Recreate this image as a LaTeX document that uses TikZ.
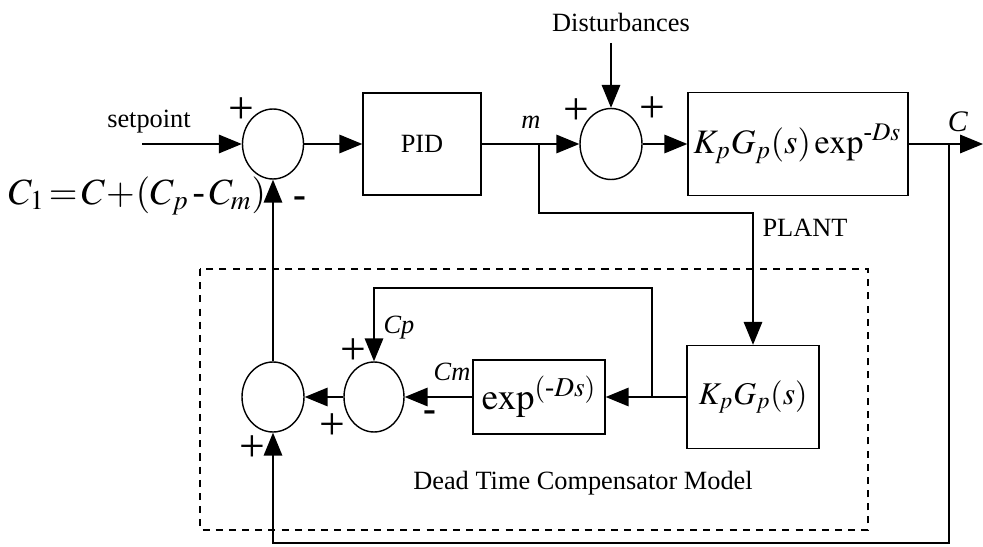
\documentclass[tikz,border=0pt]{standalone}
\usepackage{amsmath}
\usepackage{mathptmx}
\usepackage{fontspec}
\setmainfont{Liberation Serif}
\usetikzlibrary{shapes.geometric, arrows.meta, positioning}

\begin{document}
\begin{tikzpicture}[
    x=0.02cm, y=-0.02cm,
    font=\fontsize{15}{18}\selectfont,
    summer/.style={ellipse, draw=black, thick, minimum width=1.22cm, minimum height=1.4cm, inner sep=0},
    block/.style={rectangle, draw=black, thick, align=center, inner sep=0},
    arrow/.style={thick, -{Triangle[length=13pt, width=10.5pt]}},
    sign/.style={inner sep=0, font=\fontsize{26}{26}\selectfont},
    minus/.style={inner sep=0, font=\fontsize{22}{22}\selectfont\bfseries},
    big/.style={font=\fontsize{21}{25}\selectfont}
]
\useasboundingbox (0,0) rectangle (983,547);

% Forward path
\node (sum1) [summer] at (273,144) {};
\node (pid) [block, minimum width=2.36cm, minimum height=2.04cm] at (422,144) {PID};
\node (sum2) [summer, minimum width=1.24cm, minimum height=1.42cm] at (611,144) {};
\node (plant) [block, inner xsep=3pt, text width=4.4cm-6pt, minimum height=2.06cm, align=left, font=\fontsize{19.5}{24}\selectfont] at (798,144) {$K_pG_p(s)\,\mathrm{exp}^{\text{-}Ds}$};

% Compensator model
\node (sum3) [summer, minimum width=1.24cm] at (273,397) {};
\node (sum4) [summer, minimum width=1.2cm] at (374,397) {};
\node (delay) [block, minimum width=2.64cm, minimum height=1.48cm, big] at (539,397) {$\mathrm{exp}^{(\text{-}Ds)}$};
\node (model) [block, minimum width=2.64cm, minimum height=2.06cm, font=\fontsize{18}{22}\selectfont] at (753,397) {$K_pG_p(s)$};
\draw [thick, dash pattern=on 4pt off 3.5pt] (200,269) rectangle (868,530);
\node (frametitle) at (583,483) {Dead Time Compensator Model};

% Labels
\node (setpt) at (149,122) {setpoint};
\node (dist) at (621,22) {Disturbances};
\node (plantlbl) at (805,228) {PLANT};
\node (mlbl) at (531,122) {\textit{m}};
\node (clbl) [font=\fontsize{17}{20}\selectfont] at (958,122) {\textit{C}};
\node (cplbl) at (399,328) {\textit{Cp}};
\node (cmlbl) at (452,372) {\textit{Cm}};
\node (cone) [big, anchor=west, inner sep=0] at (8,196) {$C_1\! =\! C\! +\! (C_p\, \text{-}\, C_m)$};

% Signs
\node (p1) [sign] at (241,111) {+};
\node (p2) [sign] at (576,112) {+};
\node (p3) [sign] at (652,110) {+};
\node (p4) [sign] at (353,352) {+};
\node (p5) [sign] at (332,427) {+};
\node (p6) [sign] at (252,449) {+};
\node (n1) [minus] at (300,202) {-};
\node (n2) [minus] at (430,416) {-};

% Branch points
\coordinate (start) at (142,144);
\coordinate (out) at (983,144);
\coordinate (mtap) at (539,144);
\coordinate (mturn) at (539,213);
\coordinate (ctap) at (949,144);
\coordinate (fb) at (273,543);
\coordinate (disttop) at (611,43);
\coordinate (ptap) at (652,397);
\coordinate (ploop) at (374,288);

% Connect forward path
\draw [arrow] (start) -- (sum1.west);
\draw [arrow] (sum1) -- (pid);
\draw [arrow] (pid) -- (sum2);
\draw [arrow] (sum2) -- (plant);
\draw [arrow] (plant) -- (out);
\draw [arrow] (disttop) -- (sum2.north);

% Connect compensator
\draw [arrow] (mtap) -- (mturn) -| (model.north);
\draw [arrow] (model) -- (delay);
\draw [arrow] (delay) -- (sum4);
\draw [arrow] (ptap) |- (ploop) -- (sum4.north);
\draw [arrow] (sum4) -- (sum3);
\draw [arrow] (ctap) |- (fb) -- (sum3.south);
\draw [arrow] (sum3) -- (sum1);

\end{tikzpicture}
\end{document}
